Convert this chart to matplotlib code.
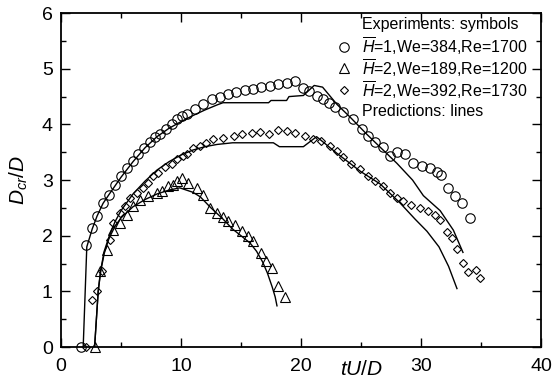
import matplotlib
matplotlib.use("Agg")
import matplotlib.pyplot as plt
from matplotlib.ticker import MultipleLocator

plt.rcParams.update(
    {
        "font.family": ["Liberation Sans", "DejaVu Sans"],
        "mathtext.fontset": "custom",
        "mathtext.rm": "Liberation Sans",
        "mathtext.it": "Liberation Sans:italic",
        "mathtext.bf": "Liberation Sans:bold",
    }
)

# ---------------------------------------------------------------------------
# Data
# ---------------------------------------------------------------------------

# H=1, We=384, Re=1700 (circles)
circ_x = [1.65, 2.08, 2.61, 3.03, 3.53, 4.03, 4.5, 5.0, 5.47, 5.97, 6.44, 6.94,
          7.42, 7.83, 8.25, 8.75, 9.22, 9.64, 10.06, 10.47, 11.2, 11.8, 12.6,
          13.25, 13.9, 14.6, 15.3, 16.0, 16.7, 17.4, 18.1, 18.8, 19.5, 20.2,
          20.7, 21.3, 21.8, 22.3, 22.8, 23.5, 24.3, 25.1, 25.6, 26.2, 26.8,
          27.4, 28.0, 28.7, 29.3, 30.05, 30.75, 31.3, 31.7, 32.25, 32.8, 33.4,
          34.1]
circ_y = [0, 1.84, 2.14, 2.36, 2.59, 2.74, 2.92, 3.07, 3.22, 3.34, 3.46, 3.58,
          3.68, 3.77, 3.82, 3.91, 4.0, 4.09, 4.15, 4.18, 4.27, 4.36, 4.45,
          4.5, 4.54, 4.58, 4.62, 4.64, 4.67, 4.69, 4.72, 4.75, 4.78, 4.65,
          4.6, 4.51, 4.45, 4.38, 4.32, 4.22, 4.09, 3.92, 3.8, 3.68, 3.6,
          3.43, 3.5, 3.46, 3.31, 3.25, 3.22, 3.15, 3.1, 2.86, 2.71, 2.59,
          2.32]

# H=2, We=189, Re=1200 (triangles)
tri_x = [2.8, 3.25, 3.8, 4.36, 4.92, 5.47, 6.03, 6.58, 7.28, 7.97, 8.4, 8.9,
         9.36, 9.7, 10.06, 10.6, 11.3, 11.86, 12.4, 13.0, 13.5, 13.9, 14.5,
         15.1, 15.6, 16.0, 16.7, 17.1, 17.6, 18.1, 18.7]
tri_y = [0, 1.36, 1.75, 2.1, 2.23, 2.38, 2.53, 2.65, 2.71, 2.77, 2.8, 2.89,
         2.92, 2.98, 3.04, 2.95, 2.86, 2.74, 2.5, 2.41, 2.33, 2.27, 2.2,
         2.08, 1.99, 1.9, 1.69, 1.54, 1.42, 1.1, 0.9]

# H=2, We=392, Re=1730 (diamonds)
dia_x = [2.06, 2.55, 3.03, 3.39, 4.08, 4.36, 4.92, 5.33, 5.75, 6.3, 6.8, 7.25,
         7.67, 8.1, 8.67, 9.22, 9.64, 10.17, 10.5, 11.0, 11.6, 12.1, 12.7,
         13.5, 14.4, 15.1, 15.9, 16.6, 17.3, 18.1, 18.8, 19.5, 20.3, 21.0,
         21.7, 22.4, 23.0, 23.5, 24.2, 24.9, 25.6, 26.2, 26.8, 27.4, 28.0,
         28.5, 29.2, 29.9, 30.6, 31.2, 31.6, 32.2, 32.6, 33.0, 33.5, 33.9,
         34.6, 34.9]
dia_y = [0, 0.85, 1.0, 1.36, 1.93, 2.23, 2.41, 2.53, 2.68, 2.77, 2.86, 2.95,
         3.07, 3.13, 3.23, 3.28, 3.37, 3.43, 3.46, 3.58, 3.61, 3.67, 3.73,
         3.76, 3.8, 3.82, 3.84, 3.86, 3.82, 3.9, 3.88, 3.84, 3.79, 3.73,
         3.7, 3.61, 3.52, 3.41, 3.28, 3.19, 3.07, 2.98, 2.89, 2.77, 2.68,
         2.62, 2.56, 2.5, 2.44, 2.38, 2.29, 2.07, 1.96, 1.77, 1.51, 1.35,
         1.39, 1.24]

# predictions (lines)
pred1_x = [1.85, 2.15, 2.6, 3.0, 3.5, 4.0, 5.0, 6.0, 7.0, 8.0, 9.0, 10.0, 11.0,
           12.0, 13.0, 13.5, 17.3, 17.5, 18.8, 19.0, 20.2, 21.1, 21.8, 23.0,
           24.1, 25.5, 26.7, 28.0, 29.3, 30.2, 31.6, 32.7, 33.5]
pred1_y = [0, 1.8, 2.12, 2.35, 2.58, 2.74, 3.05, 3.33, 3.58, 3.78, 3.93, 4.05,
           4.16, 4.26, 4.35, 4.39, 4.39, 4.43, 4.43, 4.5, 4.52, 4.7, 4.67,
           4.36, 4.13, 3.82, 3.57, 3.3, 3.0, 2.72, 2.45, 2.1, 1.7]

pred2_x = [2.8, 2.95, 3.1, 3.3, 3.6, 4.0, 4.5, 5.0, 6.0, 7.0, 8.0, 9.0, 9.9,
           11.0, 11.6, 12.5, 13.5, 14.3, 15.0, 15.75, 16.3, 16.8, 17.2, 17.6,
           17.85, 18.0]
pred2_y = [0, 0.5, 1.0, 1.35, 1.68, 1.95, 2.17, 2.32, 2.52, 2.65, 2.75, 2.82,
           2.86, 2.78, 2.7, 2.5, 2.3, 2.12, 2.0, 1.87, 1.72, 1.53, 1.33, 1.08,
           0.9, 0.74]

pred3_x = [2.8, 2.95, 3.1, 3.3, 3.6, 4.0, 4.5, 5.0, 6.0, 7.0, 8.0, 9.0, 10.0,
           11.0, 12.0, 13.0, 14.3, 17.7, 18.2, 20.2, 21.3, 23.0, 25.0, 26.6,
           28.25, 29.5, 30.5, 31.5, 32.3, 33.0]
pred3_y = [0, 0.5, 1.0, 1.37, 1.72, 1.98, 2.25, 2.45, 2.75, 2.98, 3.18, 3.33,
           3.45, 3.54, 3.6, 3.64, 3.67, 3.67, 3.6, 3.6, 3.78, 3.48, 3.15, 2.93,
           2.59, 2.3, 2.08, 1.8, 1.45, 1.05]

legend_labels = [
    r"$\overline{H}$=1,We=384,Re=1700",
    r"$\overline{H}$=2,We=189,Re=1200",
    r"$\overline{H}$=2,We=392,Re=1730",
]

# ---------------------------------------------------------------------------
# Figure
# ---------------------------------------------------------------------------

fig = plt.figure(figsize=(5.52, 3.86), dpi=100)
ax = fig.add_axes([0.1105, 0.101, 0.8695, 0.865])

mk = dict(ls="none", mfc="none", mec="black", mew=0.8, clip_on=False)
ax.plot(circ_x, circ_y, marker="o", ms=6.8, **mk)
ax.plot(tri_x, tri_y, marker="^", ms=6.5, **mk)
ax.plot(dia_x, dia_y, marker="D", ms=4.4, **mk)

for lx, ly in [(pred1_x, pred1_y), (pred2_x, pred2_y), (pred3_x, pred3_y)]:
    ax.plot(lx, ly, color="black", lw=1.0)

ax.set_xlim(0, 40)
ax.set_ylim(0, 6)
ax.xaxis.set_major_locator(MultipleLocator(10))
ax.xaxis.set_minor_locator(MultipleLocator(5))
ax.yaxis.set_major_locator(MultipleLocator(1))
ax.yaxis.set_minor_locator(MultipleLocator(0.5))
ax.tick_params(which="both", direction="in", top=True, right=True,
               labelsize=14, width=1.0)
ax.tick_params(which="major", length=6.5, pad=6)
ax.tick_params(axis="x", which="major", pad=8)
ax.tick_params(which="minor", length=3.5)
for sp in ax.spines.values():
    sp.set_linewidth(1.3)

ax.set_xlabel(r"$tU/D$", fontsize=15)
ax.xaxis.set_label_coords(0.627, -0.04)
ax.set_ylabel(r"$D_{cr}/D$", fontsize=15)
ax.yaxis.set_label_coords(-0.065, 0.5)

# legend drawn as text rows
rows_y = [0.965, 0.9, 0.835, 0.77, 0.705]
text_x = 0.628
mark_x = 0.59
ax.text(text_x, rows_y[0], "Experiments: symbols", transform=ax.transAxes,
        fontsize=11.5, va="center", ha="left")
for yy, m, ms, lab in zip(rows_y[1:4], ["o", "^", "D"], [6.8, 6.5, 4.4],
                          legend_labels):
    ax.plot([mark_x], [yy], marker=m, ms=ms, transform=ax.transAxes, **mk)
    ax.text(text_x, yy, lab, transform=ax.transAxes, fontsize=11.5,
            va="center", ha="left")
ax.text(text_x, rows_y[4], "Predictions: lines", transform=ax.transAxes,
        fontsize=11.5, va="center", ha="left")

fig.savefig("out.png", dpi=100)
